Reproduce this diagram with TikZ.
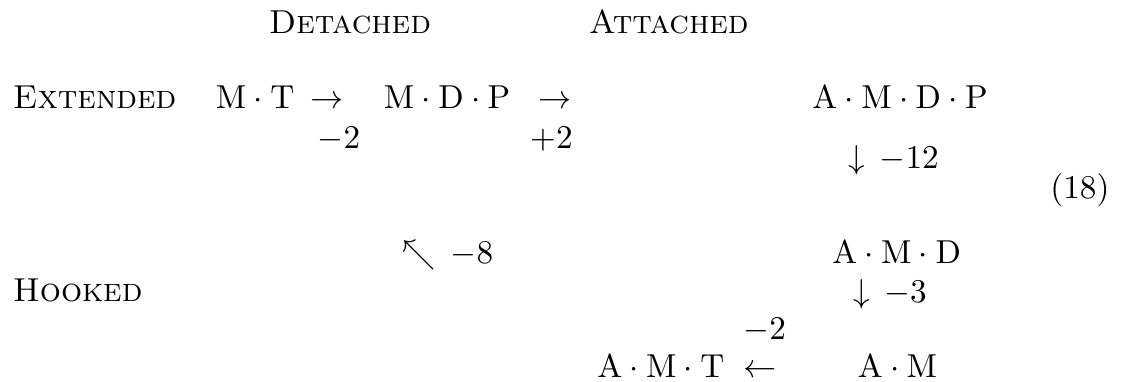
\documentclass[tikz,border=0pt]{standalone}
\usepackage{amsmath}
\usepackage{amssymb}
\usepackage{tikz}
\usetikzlibrary{positioning,calc}
\tikzset{
  term/.style  = {anchor=base west, inner sep=0pt, font=\normalsize},
  hdr/.style   = {term, font=\scshape},
  wt/.style    = {term},
}

\begin{document}
\begin{tikzpicture}
  \useasboundingbox (0,0) rectangle (12.14,-4.046);
  % column and row heads
  \node[hdr] (det) at (2.84,-0.35) {Detached};
  \node[hdr] (att) at (6.23,-0.35) {Attached};
  \node[hdr] (ext) at (0.13,-1.15) {Extended};
  \node[hdr] (hook) at (0.13,-3.19) {Hooked};
  % extended row
  \node[term] (mt) at (2.28,-1.15) {$\mathrm{M}\cdot\mathrm{T}$};
  \node[term] (ra1) at (3.28,-1.15) {$\rightarrow$};
  \node[term] (mdp) at (4.06,-1.15) {$\mathrm{M}\cdot\mathrm{D}\cdot\mathrm{P}$};
  \node[term] (ra2) at (5.70,-1.15) {$\rightarrow$};
  \node[term] (amdp) at (8.60,-1.15) {$\mathrm{A}\cdot\mathrm{M}\cdot\mathrm{D}\cdot\mathrm{P}$};
  \node[wt] (w1) at (3.36,-1.57) {$-2$};
  \node[wt] (w2) at (5.61,-1.57) {$+2$};
  % attached column
  \node[term] (da1) at (8.98,-1.78) {$\downarrow\,{-12}$};
  \node[term] (amd) at (8.81,-2.79) {$\mathrm{A}\cdot\mathrm{M}\cdot\mathrm{D}$};
  \node[term] (da2) at (9.03,-3.20) {$\downarrow\,{-3}$};
  \node[term] (am) at (9.08,-4.00) {$\mathrm{A}\cdot\mathrm{M}$};
  % hooked row
  \node[term] (nw) at (4.26,-2.79) {$\nwarrow\,{-8}$};
  \node[wt] (w3) at (7.87,-3.60) {$-2$};
  \node[term] (la) at (7.87,-4.00) {$\leftarrow$};
  \node[term] (amt) at (6.32,-4.00) {$\mathrm{A}\cdot\mathrm{M}\cdot\mathrm{T}$};
  % equation number
  \node[term, anchor=base east] (eqno) at (11.76,-2.10) {(18)};
\end{tikzpicture}
\end{document}
